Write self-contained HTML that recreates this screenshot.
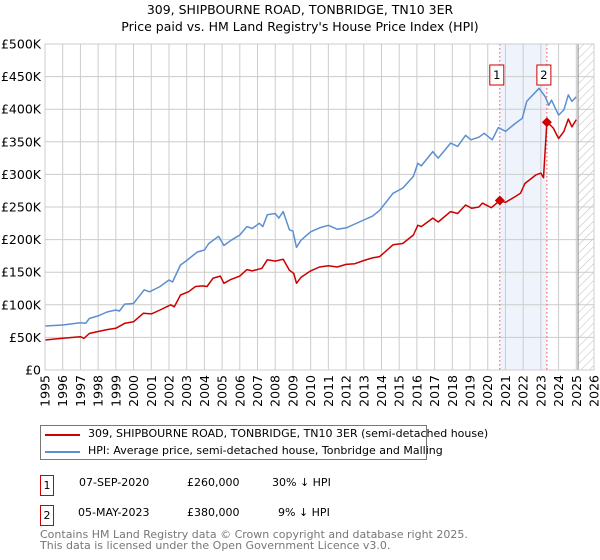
<!DOCTYPE html>
<html><head><meta charset="utf-8"><style>
body{margin:0;background:#fff;font-family:"DejaVu Sans","Liberation Sans",sans-serif;}
#wrap{position:relative;width:600px;height:560px;overflow:hidden}
.t{position:absolute;font-size:12px;color:#000;white-space:nowrap}
</style></head><body><div id="wrap">
<svg id="chart" width="600" height="410" style="position:absolute;left:0;top:0"></svg>
<div class="t" style="left:0;width:600px;text-align:center;top:2px;font-size:12.5px">309, SHIPBOURNE ROAD, TONBRIDGE, TN10 3ER</div>
<div class="t" style="left:0;width:600px;text-align:center;top:19px;font-size:12.5px">Price paid vs. HM Land Registry's House Price Index (HPI)</div>
<div style="position:absolute;left:40px;top:425px;width:387px;height:35px;border:1px solid #777;box-sizing:border-box">
<div style="position:absolute;left:4px;top:8px;width:35px;height:2px;background:#cc0000"></div>
<div class="t" style="left:47px;top:1px;font-size:11px">309, SHIPBOURNE ROAD, TONBRIDGE, TN10 3ER (semi-detached house)</div>
<div style="position:absolute;left:4px;top:25px;width:35px;height:2px;background:#5b8fd0"></div>
<div class="t" style="left:47px;top:18px;font-size:11px">HPI: Average price, semi-detached house, Tonbridge and Malling</div>
</div>
<div>
<div class="t" style="left:40px;top:475px;width:12px;height:19px;border:1px solid #cc0000;text-align:center;line-height:19px;font-size:11px">1</div>
<div class="t" style="left:79px;top:476px;font-size:11px">07-SEP-2020</div>
<div class="t" style="left:187px;top:476px;font-size:11px">£260,000</div>
<div class="t" style="left:272px;top:476px;font-size:11px">30% ↓ HPI</div>
</div>
<div>
<div class="t" style="left:40px;top:505px;width:12px;height:19px;border:1px solid #cc0000;text-align:center;line-height:19px;font-size:11px">2</div>
<div class="t" style="left:78px;top:506px;font-size:11px">05-MAY-2023</div>
<div class="t" style="left:187px;top:506px;font-size:11px">£380,000</div>
<div class="t" style="left:278px;top:506px;font-size:11px">9% ↓ HPI</div>
</div>
<div class="t" style="left:40px;top:529px;font-size:11px;color:#777;line-height:11px">Contains HM Land Registry data © Crown copyright and database right 2025.<br>This data is licensed under the Open Government Licence v3.0.</div>
</div>
<script>
const hpiYears=[1995,1996,1997,1997.3,1997.5,1998,1998.5,1999,1999.2,1999.5,2000,2000.6,2000.9,2001.5,2002,2002.2,2002.65,2003,2003.6,2004,2004.25,2004.8,2005.1,2005.5,2006,2006.4,2006.7,2007.1,2007.3,2007.55,2008,2008.2,2008.45,2008.8,2009,2009.2,2009.45,2010,2010.5,2011,2011.5,2012,2012.5,2013,2013.5,2013.9,2014.65,2015.2,2015.8,2016.05,2016.25,2016.9,2017.2,2017.9,2018.3,2018.75,2019.05,2019.5,2019.8,2020.25,2020.6,2021,2021.55,2021.95,2022.2,2022.9,2023.25,2023.45,2023.6,2024,2024.3,2024.55,2024.75,2025];
const hpiValues=[67.5,69,72.6,71.6,79,83,89,92,90.5,101,102,123,120,128,138,135,161,168,181,184,194,205,191,199,207,220,217,225,220,238,240,233,243,215,213,188,199,212,218,222,216,218,224,230,236,245,271,279,297,317,313,335,325,348,343,360,353,357,363,353,372,366,378,386,412,432,419,406,414,391,399,422,412,419];
const ppYears=[1995,1996,1997,1997.2,1997.5,1998,1998.5,1999,1999.5,2000,2000.55,2001,2001.5,2002.1,2002.3,2002.65,2003.1,2003.5,2003.9,2004.15,2004.5,2004.9,2005.1,2005.5,2006,2006.4,2006.7,2007.25,2007.55,2008,2008.45,2008.8,2009.05,2009.2,2009.45,2010,2010.5,2011,2011.5,2012,2012.5,2013,2013.5,2013.9,2014.65,2015.2,2015.8,2016.05,2016.25,2016.9,2017.2,2017.9,2018.3,2018.75,2019.1,2019.5,2019.7,2020.2,2020.68,2021,2021.55,2021.85,2022.1,2022.7,2023,2023.15,2023.34,2023.7,2024,2024.3,2024.55,2024.75,2025];
const ppValues=[46,48.6,51,48.6,56,59,62,64,71.6,74,87,86,92,100,97,115,120,128,129,128,141,144,133,139,144,154,152,156,169,167,170,153,148,133,142,152,158,160,158,162,163,168,172,174,192,194,207,222,220,233,227,243,240,253,248,250,256,249,260,257,266,271,286,299,302,295,381,371,355,366,385,373,384];
const saleYears=[2020.68,2023.34];
const saleValues=[260,380];
const saleLabels=["1","2"];
const yTicks=[0,50,100,150,200,250,300,350,400,450,500];
const yTickLabels=["£0","£50K","£100K","£150K","£200K","£250K","£300K","£350K","£400K","£450K","£500K"];
const xTicks=[1995,1996,1997,1998,1999,2000,2001,2002,2003,2004,2005,2006,2007,2008,2009,2010,2011,2012,2013,2014,2015,2016,2017,2018,2019,2020,2021,2022,2023,2024,2025,2026];
const dataEnd=2025.1;

const L=45,R=594,T=44,B=370;
const X=y=>L+(y-1995)/(2026-1995)*(R-L);
const Y=v=>B-v/500*(B-T);
const svg=document.getElementById('chart');
const NS='http://www.w3.org/2000/svg';
function mk(tag,attrs,parent){const e=document.createElementNS(NS,tag);for(const k in attrs)e.setAttribute(k,attrs[k]);(parent||svg).appendChild(e);return e;}
const defs=mk('defs',{});
const pat=mk('pattern',{id:'hatch',width:6,height:6,patternUnits:'userSpaceOnUse',patternTransform:'rotate(45)'},defs);
mk('line',{x1:0,y1:0,x2:0,y2:6,stroke:'#bbb','stroke-width':1},pat);
// shading between sales
let sh=mk('rect',{x:X(saleYears[0]),y:T,width:X(saleYears[1])-X(saleYears[0]),height:B-T,fill:'#eef3fc'});


let ht=mk('rect',{x:X(dataEnd),y:T,width:R-X(dataEnd),height:B-T,fill:'url(#hatch)'});


yTicks.forEach((v,i)=>{
 let g=mk('line',{x1:L,x2:R,y1:Y(v),y2:Y(v),stroke:'#ccc','stroke-width':1});
 
 
 let t=mk('text',{x:L-4,y:Y(v)+4.5,'text-anchor':'end','font-size':12.5,'font-family':'DejaVu Sans, Liberation Sans, sans-serif'});
 t.textContent=yTickLabels[i];
 
 
});
xTicks.forEach(y=>{
 let g=mk('line',{x1:X(y),x2:X(y),y1:T,y2:B,stroke:'#ccc','stroke-width':1});
 
 
 let t=mk('text',{x:0,y:0,'text-anchor':'end','font-size':12.5,'font-family':'DejaVu Sans, Liberation Sans, sans-serif',transform:`translate(${X(y)+4.5},${B+5}) rotate(-90)`});
 t.textContent=y;
 
 
});
let dl=mk('line',{x1:X(dataEnd),x2:X(dataEnd),y1:T,y2:B,stroke:'#888','stroke-width':1});


saleYears.forEach(y=>{
 let l=mk('line',{x1:X(y),x2:X(y),y1:T,y2:B,stroke:'#ee5555','stroke-width':1,'stroke-dasharray':'1.5,2.5'});
 
 
});
function path(xs,vs,color,name){
 const d=xs.map((x,i)=>(i?'L':'M')+X(x).toFixed(1)+','+Y(vs[i]).toFixed(1)).join('');
 const p=mk('path',{d,fill:'none',stroke:color,'stroke-width':1.5,'stroke-linejoin':'round'});
 
 
}
path(hpiYears,hpiValues,'#5b8fd0','hpi-line');
path(ppYears,ppValues,'#cc0000','price-paid-line');
saleYears.forEach((y,i)=>{
 const cx=X(y),cy=Y(saleValues[i]);
 let m=mk('path',{d:`M${cx},${cy-5}L${cx+5},${cy}L${cx},${cy+5}L${cx-5},${cy}Z`,fill:'#cc0000'});
 
 
 let b=mk('rect',{x:cx-10,y:65,width:14,height:20,fill:'#fff',stroke:'#cc0000','stroke-width':1});
 
 
 let t=mk('text',{x:cx-3,y:79,'text-anchor':'middle','font-size':11.5,'font-family':'DejaVu Sans, sans-serif'});
 t.textContent=saleLabels[i];
 
 
});
let fr=mk('rect',{x:L,y:T,width:R-L,height:B-T,fill:'none',stroke:'#ccc','stroke-width':1});


</script></body></html>
